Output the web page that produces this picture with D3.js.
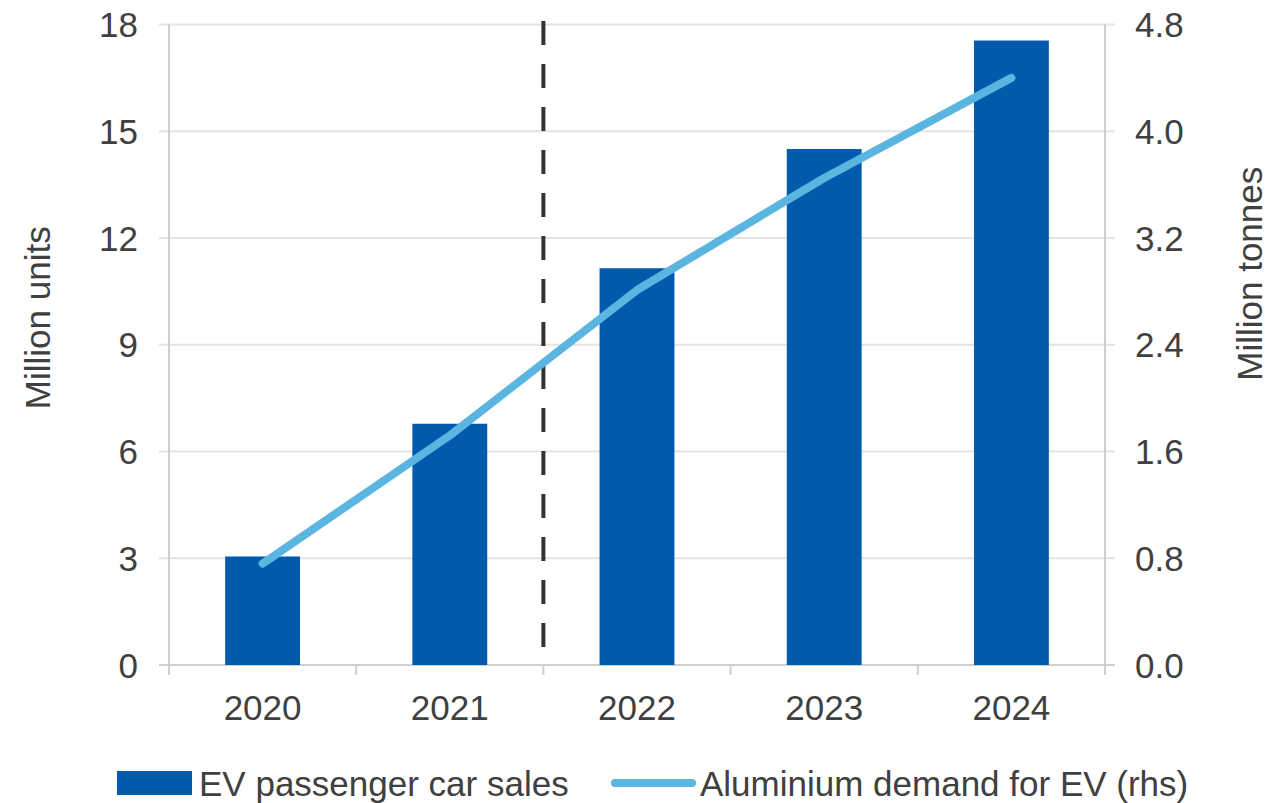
<!DOCTYPE html>
<html>
<head>
<meta charset="utf-8">
<script src="https://cdn.jsdelivr.net/npm/d3@7"></script>
<style>
  html, body { margin: 0; padding: 0; background: #fff; }
  svg { display: block; }
  text { font-family: "Liberation Sans", Arial, sans-serif; fill: #404040; }
</style>
</head>
<body>
<svg id="chart" width="1281" height="803"></svg>
<script>
const years = ["2020", "2021", "2022", "2023", "2024"];
const evSales = [3.05, 6.78, 11.15, 14.5, 17.55];          // million units (lhs)
const aluminiumDemand = [0.76, 1.72, 2.81, 3.65, 4.40];    // million tonnes (rhs)
const leftTicks = [0, 3, 6, 9, 12, 15, 18];
const rightTicks = [0, 0.8, 1.6, 2.4, 3.2, 4.0, 4.8];
const seriesNames = ["EV passenger car sales", "Aluminium demand for EV (rhs)"];
const dividerAfter = "2021";

const svg = d3.select("#chart");
const L = 169, R = 1105, T = 24.5, B = 665;
const barColor = "#005BAC", lineColor = "#5AB6E0";
const gridColor = "#e3e3e3", axisColor = "#cfcfcf";
const fs = 35;

const x = d3.scaleBand().domain(years).range([L, R]).paddingInner(0.6).paddingOuter(0.3);
const yL = d3.scaleLinear().domain([0, 18]).range([B, T]);
const yR = d3.scaleLinear().domain([0, 4.8]).range([B, T]);

// gridlines
svg.append("g").selectAll("line").data(leftTicks).join("line")
  .attr("x1", L - 10).attr("x2", R + 10)
  .attr("y1", d => yL(d)).attr("y2", d => yL(d))
  .attr("stroke", d => d === 0 ? axisColor : gridColor).attr("stroke-width", 2);

// axis lines
svg.append("line").attr("x1", L).attr("x2", L).attr("y1", T).attr("y2", B + 10)
  .attr("stroke", axisColor).attr("stroke-width", 2);
svg.append("line").attr("x1", R).attr("x2", R).attr("y1", T).attr("y2", B + 10)
  .attr("stroke", axisColor).attr("stroke-width", 2);

// category boundary ticks
const bounds = years.slice(1).map(y => x(y) - x.step() * x.paddingInner() / 2);
svg.append("g").selectAll("line").data(bounds).join("line")
  .attr("x1", d => d).attr("x2", d => d).attr("y1", B).attr("y2", B + 10)
  .attr("stroke", axisColor).attr("stroke-width", 2);

// left tick labels
svg.append("g").selectAll("text").data(leftTicks).join("text")
  .attr("x", 138).attr("y", d => yL(d)).attr("dy", "0.36em")
  .attr("text-anchor", "end").attr("font-size", fs).text(d => d);

// right tick labels
svg.append("g").selectAll("text").data(rightTicks).join("text")
  .attr("x", 1135).attr("y", d => yR(d)).attr("dy", "0.36em")
  .attr("text-anchor", "start").attr("font-size", fs).text(d => d.toFixed(1));

// x labels
svg.append("g").selectAll("text").data(years).join("text")
  .attr("x", d => x(d) + x.bandwidth() / 2).attr("y", 707.5).attr("dy", "0.36em")
  .attr("text-anchor", "middle").attr("font-size", fs).text(d => d);

// axis titles
svg.append("text").attr("transform", `translate(50,${(T + B) / 2 - 27}) rotate(-90)`)
  .attr("text-anchor", "middle").attr("font-size", fs).text("Million units");
svg.append("text").attr("transform", `translate(1237,${(T + B) / 2 - 71}) rotate(-90)`)
  .attr("text-anchor", "middle").attr("font-size", fs).attr("dy", "0.72em").text("Million tonnes");

// bars
svg.append("g").selectAll("rect").data(years).join("rect")
  .attr("x", d => x(d)).attr("width", x.bandwidth())
  .attr("y", (d, i) => yL(evSales[i])).attr("height", (d, i) => B - yL(evSales[i]))
  .attr("fill", barColor);

// divider dashed line
const dx = x(dividerAfter) + x.bandwidth() + x.step() * x.paddingInner() / 2;
svg.append("line").attr("x1", dx).attr("x2", dx).attr("y1", 21).attr("y2", B)
  .attr("stroke", "#333").attr("stroke-width", 4).attr("stroke-dasharray", "24,19");

// line
const lineGen = d3.line().x((d, i) => x(years[i]) + x.bandwidth() / 2).y(d => yR(d));
svg.append("path").datum(aluminiumDemand).attr("d", lineGen)
  .attr("fill", "none").attr("stroke", lineColor).attr("stroke-width", 8)
  .attr("stroke-linecap", "round").attr("stroke-linejoin", "round");

// legend
const lg = svg.append("g");
lg.append("rect").attr("x", 117).attr("y", 771).attr("width", 75).attr("height", 24).attr("fill", barColor);
lg.append("text").attr("x", 199).attr("y", 783).attr("dy", "0.36em").attr("font-size", fs).text(seriesNames[0]);
lg.append("line").attr("x1", 615).attr("x2", 692).attr("y1", 783).attr("y2", 783)
  .attr("stroke", lineColor).attr("stroke-width", 8).attr("stroke-linecap", "round");
lg.append("text").attr("x", 700).attr("y", 783).attr("dy", "0.36em").attr("font-size", fs).text(seriesNames[1]);
</script>
</body>
</html>
